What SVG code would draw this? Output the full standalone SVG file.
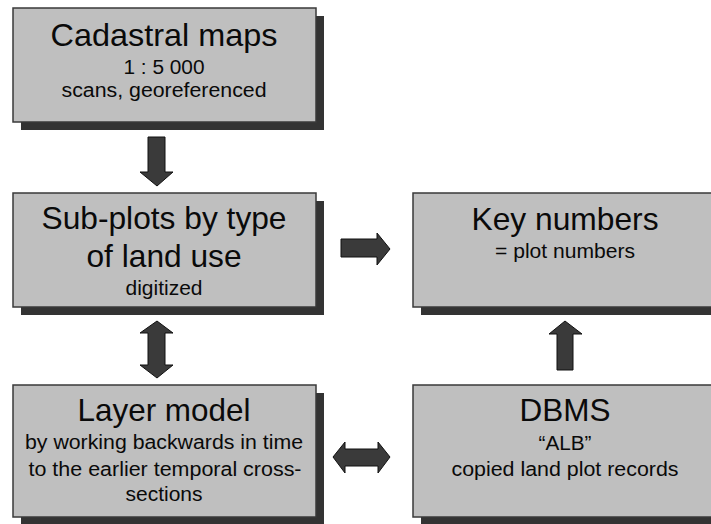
<svg xmlns="http://www.w3.org/2000/svg" width="711" height="524" viewBox="0 0 711 524">
<style>
.shadow{fill:#333333}
.box{fill:#bfbfbf;stroke:#3a3a3a;stroke-width:1.5}
.t{font-family:"Liberation Sans",Arial,sans-serif;fill:#0a0a0a;text-anchor:middle}
.h{font-size:32px}
.s{font-size:20px}
.arrow{fill:#3a3a3a;stroke:#111;stroke-width:1;stroke-linejoin:miter}
</style>
<rect width="711" height="524" fill="#ffffff"/>
<g id="cadastral">
<rect class="shadow" x="21" y="16" width="303" height="114"/>
<rect class="box" x="13" y="8" width="303" height="114"/>
<text class="t h" x="164" y="46" textLength="227" lengthAdjust="spacingAndGlyphs">Cadastral maps</text>
<text class="t s" x="164" y="74" textLength="81" lengthAdjust="spacingAndGlyphs">1 : 5 000</text>
<text class="t s" x="164" y="97" textLength="205" lengthAdjust="spacingAndGlyphs">scans, georeferenced</text>
</g>
<g id="subplots">
<rect class="shadow" x="21" y="201" width="303" height="114"/>
<rect class="box" x="13" y="193" width="303" height="114"/>
<text class="t h" x="164" y="229" textLength="245" lengthAdjust="spacingAndGlyphs">Sub-plots by type</text>
<text class="t h" x="164" y="267" textLength="155" lengthAdjust="spacingAndGlyphs">of land use</text>
<text class="t s" x="164" y="295" textLength="77" lengthAdjust="spacingAndGlyphs">digitized</text>
</g>
<g id="keynumbers">
<rect class="shadow" x="421" y="201" width="304" height="114"/>
<rect class="box" x="413" y="193" width="304" height="114"/>
<text class="t h" x="565" y="230" textLength="187" lengthAdjust="spacingAndGlyphs">Key numbers</text>
<text class="t s" x="565" y="258" textLength="140" lengthAdjust="spacingAndGlyphs">= plot numbers</text>
</g>
<g id="layermodel">
<rect class="shadow" x="21" y="393" width="303" height="140"/>
<rect class="box" x="13" y="385" width="303" height="132"/>
<text class="t h" x="164" y="421" textLength="173" lengthAdjust="spacingAndGlyphs">Layer model</text>
<text class="t s" x="164" y="449" textLength="278" lengthAdjust="spacingAndGlyphs">by working backwards in time</text>
<text class="t s" x="165" y="476" textLength="273" lengthAdjust="spacingAndGlyphs">to the earlier temporal cross-</text>
<text class="t s" x="164" y="501" textLength="77" lengthAdjust="spacingAndGlyphs">sections</text>
</g>
<g id="dbms">
<rect class="shadow" x="421" y="393" width="304" height="140"/>
<rect class="box" x="413" y="385" width="304" height="132"/>
<text class="t h" x="565" y="421" textLength="91" lengthAdjust="spacingAndGlyphs">DBMS</text>
<text class="t s" x="565" y="450" textLength="53" lengthAdjust="spacingAndGlyphs">“ALB”</text>
<text class="t s" x="565" y="476" textLength="227" lengthAdjust="spacingAndGlyphs">copied land plot records</text>
</g>
<g id="connectors">
<polygon class="arrow" points="148,137 165,137 165,172 173,172 157,186 140,172 148,172"/>
<polygon class="arrow" points="157,321 173,333 165,333 165,365 173,365 157,378 140,365 148,365 148,333 140,333"/>
<polygon class="arrow" points="341,239 377,239 377,233 390,249 377,265 377,257 341,257"/>
<polygon class="arrow" points="333,457 345,442 345,449 378,449 378,442 390,457 378,473 378,466 345,466 345,473"/>
<polygon class="arrow" points="565,321 582,334 573,334 573,370 557,370 557,334 549,334"/>
</g>
</svg>
